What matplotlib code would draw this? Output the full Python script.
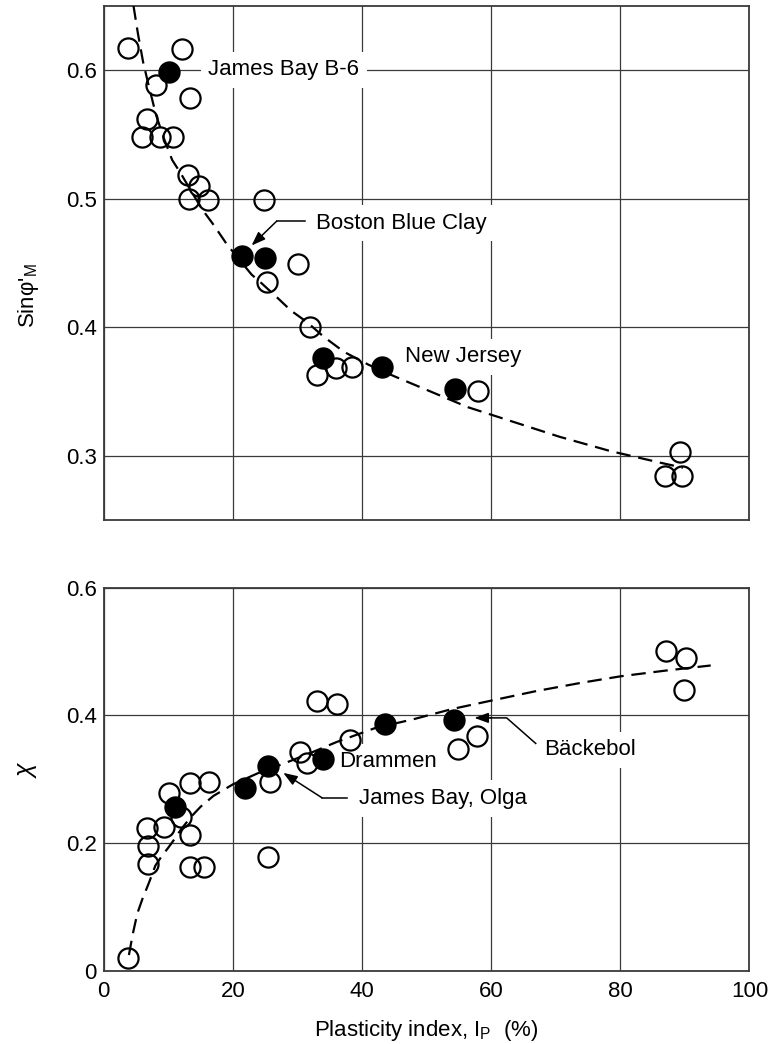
import matplotlib
matplotlib.use('Agg')
import matplotlib.pyplot as plt

# ---- top panel: sin(phi'_M) vs plasticity index ----
top_open_x = [3.8, 12.1, 8.1, 13.4, 6.7, 5.9, 8.7, 10.7, 13.05, 14.75, 13.2, 16.15, 24.8,
              30.1, 25.3, 31.9, 33.0, 36.0, 38.4, 58.0, 89.3, 86.9, 89.5]
top_open_y = [0.617, 0.6165, 0.588, 0.5785, 0.562, 0.5475, 0.5475, 0.5475, 0.518, 0.510, 0.500, 0.4987, 0.4987,
              0.449, 0.4354, 0.4005, 0.3633, 0.3684, 0.369, 0.3505, 0.3035, 0.2843, 0.2849]
top_fill_x = [10.1, 21.4, 25.0, 34.0, 43.1, 54.4]
top_fill_y = [0.5987, 0.4553, 0.4537, 0.376, 0.3696, 0.3518]
top_curve_x = [4.6, 5.3, 6.1, 7.0, 8.1, 9.3, 10.6, 12.0, 13.4, 15.2, 17.1, 19.0, 20.6, 22.9, 24.5,
               27.0, 29.0, 31.5, 34.0, 37.2, 41.0, 45.0, 50.7, 56.4, 63.2, 70.6, 78.4, 86.1, 89.7]
top_curve_y = [0.650, 0.628, 0.606, 0.587, 0.565, 0.547, 0.530, 0.519, 0.507, 0.492, 0.479, 0.465, 0.455, 0.441, 0.434,
               0.4225, 0.413, 0.404, 0.393, 0.381, 0.371, 0.362, 0.350, 0.338, 0.327, 0.315, 0.304, 0.295, 0.291]

# ---- bottom panel: chi vs plasticity index ----
bot_open_x = [3.8, 6.75, 6.9, 6.9, 9.4, 10.1, 11.9, 13.4, 13.4, 16.3, 13.4, 15.5, 25.5, 25.8,
              30.4, 31.5, 33.0, 36.2, 38.2, 54.9, 57.8, 87.1, 90.1, 89.8]
bot_open_y = [0.020, 0.223, 0.195, 0.167, 0.225, 0.278, 0.241, 0.2125, 0.294, 0.296, 0.163, 0.163, 0.179, 0.296,
              0.342, 0.325, 0.422, 0.418, 0.362, 0.348, 0.367, 0.500, 0.489, 0.439]
bot_fill_x = [11.1, 21.8, 25.5, 33.9, 43.6, 54.3]
bot_fill_y = [0.257, 0.286, 0.321, 0.332, 0.387, 0.393]
bot_curve_x = [3.9, 4.5, 5.2, 6.0, 7.0, 8.0, 9.0, 10.0, 11.0, 12.0, 13.5, 15.0, 17.0, 20.0, 24.0,
               28.0, 32.0, 36.0, 42.0, 48.0, 54.0, 60.0, 67.0, 74.0, 80.0, 87.0, 94.0]
bot_curve_y = [0.025, 0.058, 0.090, 0.113, 0.138, 0.165, 0.180, 0.193, 0.207, 0.222, 0.241, 0.257, 0.274, 0.292, 0.310,
               0.325, 0.341, 0.358, 0.380, 0.394, 0.410, 0.423, 0.438, 0.451, 0.461, 0.470, 0.478]

x_ticks = [0, 20, 40, 60, 80, 100]
top_ticks = [0.3, 0.4, 0.5, 0.6]
bot_ticks = [0, 0.2, 0.4, 0.6]

# label text, anchor (x, y), leader polyline (last point is the arrow tip)
top_labels = [
    ('James Bay B-6', (16.2, 0.600), None),
    ('Boston Blue Clay', (32.9, 0.481), [(31.2, 0.4826), (26.8, 0.4826), (22.9, 0.4636)]),
    ('New Jersey', (46.6, 0.377), None),
]
bot_labels = [
    ('Drammen', (36.5, 0.327), None),
    ('James Bay, Olga', (39.6, 0.270), [(37.7, 0.271), (33.8, 0.271), (27.8, 0.310)]),
    ('B\u00e4ckebol', (68.2, 0.346), [(66.9, 0.356), (62.4, 0.396), (59.9, 0.396), (57.4, 0.396)]),
]

plt.rcParams['font.family'] = ['Liberation Sans', 'DejaVu Sans']
plt.rcParams['mathtext.fontset'] = 'custom'
plt.rcParams['mathtext.rm'] = 'Liberation Sans'
plt.rcParams['mathtext.it'] = 'Liberation Sans:italic'
plt.rcParams['font.size'] = 16

fig = plt.figure(figsize=(7.69, 10.44), dpi=100)
ax1 = fig.add_axes([0.1349, 0.50144, 0.8397, 0.49329])
ax2 = fig.add_axes([0.1349, 0.06992, 0.8397, 0.36734])

grid_col = '#3a3a3a'


def style(ax, yticks, ylim):
    ax.set_xlim(0, 100)
    ax.set_ylim(*ylim)
    ax.set_xticks(x_ticks)
    ax.set_yticks(yticks)
    ax.grid(True, color=grid_col, lw=0.9)
    ax.set_axisbelow(True)
    for s in ax.spines.values():
        s.set_color(grid_col)
        s.set_linewidth(1.3)
    ax.tick_params(length=0, labelsize=16)
    ax.tick_params(axis='y', pad=5)
    ax.tick_params(axis='x', pad=7)


def draw(ax, ox, oy, fx, fy, cx, cy, labels):
    # text boxes sit above the grid but under the data, so they only break grid lines
    for text, (tx, ty), path in labels:
        ax.text(tx, ty, text, fontsize=16, ha='left', va='center', zorder=2,
                bbox=dict(boxstyle='square,pad=0.35', fc='white', ec='none'))
        if path:
            px = [p[0] for p in path[:-1]]
            py = [p[1] for p in path[:-1]]
            ax.plot(px, py, color='k', lw=1.1, zorder=6)
            ax.annotate('', xy=path[-1], xytext=path[-2], zorder=6,
                        arrowprops=dict(arrowstyle='-|>,head_length=0.6,head_width=0.22',
                                        color='k', lw=1.1, mutation_scale=14,
                                        shrinkA=0, shrinkB=0))
    ax.plot(cx, cy, color='k', lw=1.6, dashes=(6.5, 3.5), zorder=3)
    ax.plot(ox, oy, 'o', ms=14.5, mfc='none', mec='k', mew=1.6, zorder=4)
    ax.plot(fx, fy, 'o', ms=14.5, mfc='k', mec='k', mew=1.6, zorder=4)


style(ax1, top_ticks, (0.25, 0.65))
style(ax2, bot_ticks, (0, 0.6))
ax1.set_xticklabels([])
ax2.set_xticklabels([str(v) for v in x_ticks])
ax1.set_yticklabels(['0.3', '0.4', '0.5', '0.6'])
ax2.set_yticklabels(['0', '0.2', '0.4', '0.6'])

draw(ax1, top_open_x, top_open_y, top_fill_x, top_fill_y, top_curve_x, top_curve_y, top_labels)
draw(ax2, bot_open_x, bot_open_y, bot_fill_x, bot_fill_y, bot_curve_x, bot_curve_y, bot_labels)

ax1.set_ylabel("Sin\u03c6$'_{\\mathrm{M}}$", fontsize=16)
ax1.yaxis.set_label_coords(-0.097, 0.436)
ax2.set_ylabel('\u03c7', fontsize=18, style='italic')
ax2.yaxis.set_label_coords(-0.100, 0.52)
ax2.set_xlabel('Plasticity index, I$_{\\mathrm{P}}$  (%)', fontsize=16, labelpad=12)

fig.savefig('out.png', dpi=100)
